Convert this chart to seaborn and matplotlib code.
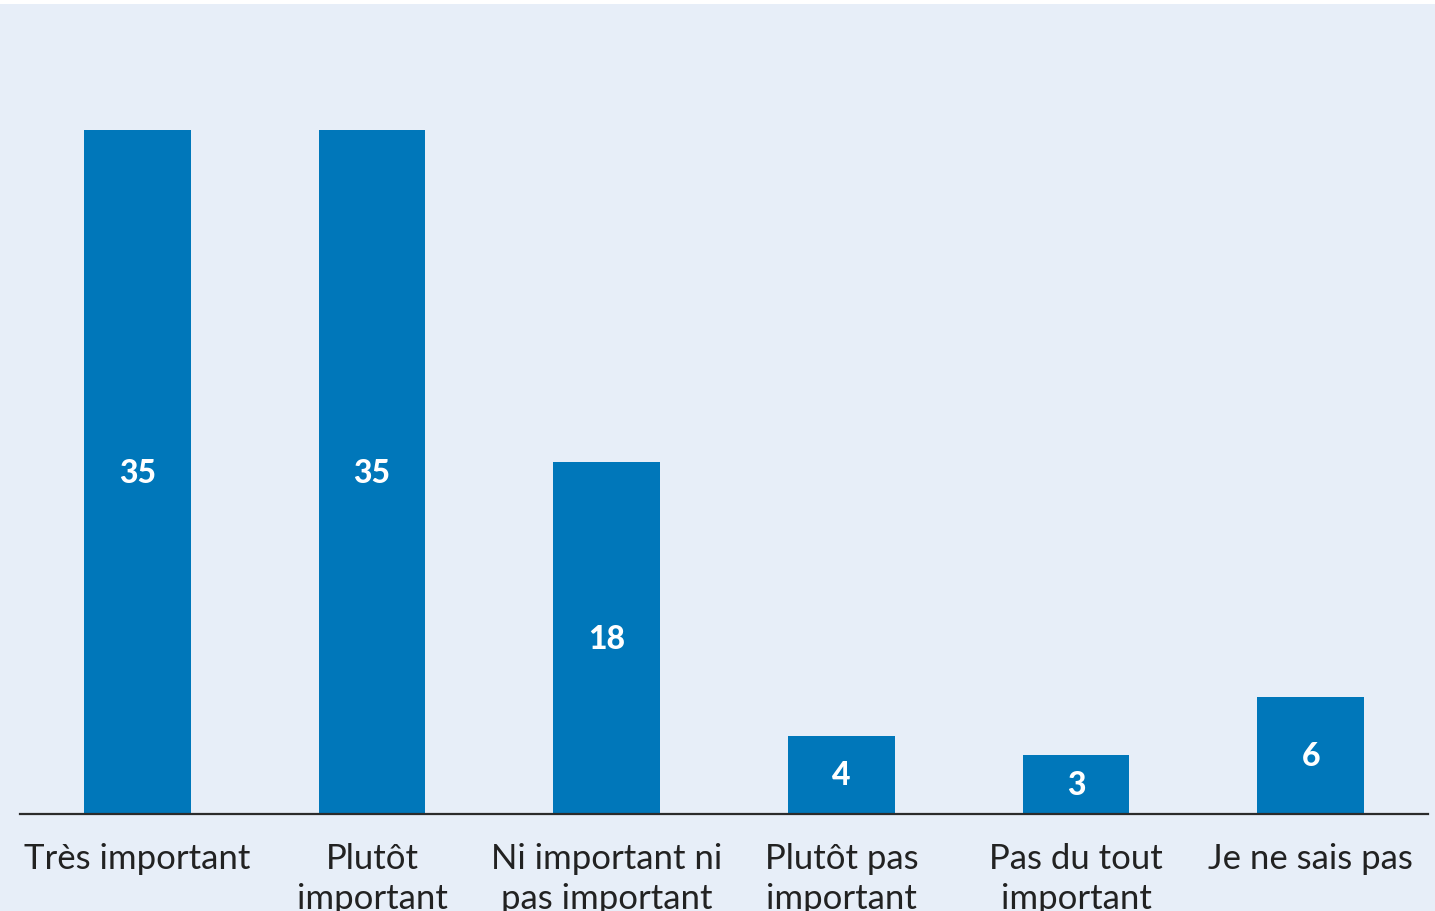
import matplotlib
matplotlib.use("Agg")
import matplotlib.pyplot as plt
import seaborn as sns
import pandas as pd
from matplotlib.patches import Rectangle

categories = ["Très important", "Plutôt\nimportant", "Ni important ni\npas important",
              "Plutôt pas\nimportant", "Pas du tout\nimportant", "Je ne sais pas"]
values = [35, 35, 18, 4, 3, 6]

bg = "#E7EEF8"
bar_color = "#0077BA"

sns.set_theme(style="white")
plt.rcParams["font.family"] = ["Lato", "DejaVu Sans"]

df = pd.DataFrame({"cat": categories, "val": values})

fig = plt.figure(figsize=(14.35, 9.12), dpi=100, facecolor="white")
# light blue panel, leaving a thin white strip at the top
fig.patches.append(Rectangle((0, 0), 1, 907 / 912, transform=fig.transFigure,
                             facecolor=bg, edgecolor="none", zorder=-10))

ax = fig.add_axes([20 / 1435, 97 / 912, 1408 / 1435, 810 / 912])
ax.set_facecolor("none")
sns.barplot(data=df, x="cat", y="val", color=bar_color, saturation=1,
            width=0.455, linewidth=0, ax=ax)

ax.set_xlim(-0.5, 5.5)
ax.set_ylim(0, 41.45)
for side in ["top", "right", "left"]:
    ax.spines[side].set_visible(False)
ax.spines["bottom"].set_color("#2b2b2b")
ax.spines["bottom"].set_linewidth(1.6)
ax.set_yticks([])
ax.set_xlabel("")
ax.set_ylabel("")
ax.tick_params(axis="x", length=0, pad=20, labelsize=25, labelcolor="#222222")
for lbl in ax.get_xticklabels():
    lbl.set_linespacing(1.3)

for i, v in enumerate(values):
    ax.text(i, v / 2, str(v), ha="center", va="center", color="white",
            fontsize=23, fontweight="black")

fig.savefig("out.png", dpi=100, facecolor="white")
